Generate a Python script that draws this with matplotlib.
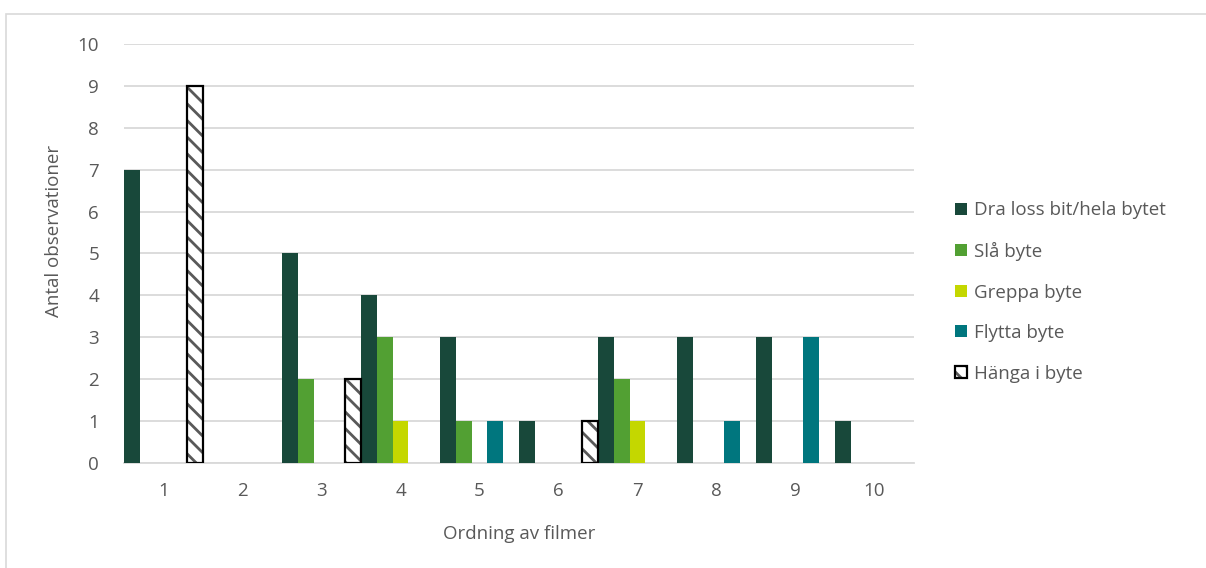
import matplotlib
matplotlib.use("Agg")
import matplotlib.pyplot as plt
from matplotlib.patches import Patch, Rectangle
import numpy as np

plt.rcParams['font.family'] = ['Open Sans', 'DejaVu Sans']
plt.rcParams['hatch.linewidth'] = 2.0

categories = ["1", "2", "3", "4", "5", "6", "7", "8", "9", "10"]
series_names = ["Dra loss bit/hela bytet", "Slå byte", "Greppa byte", "Flytta byte", "Hänga i byte"]
dra_loss = [7, 0, 5, 4, 3, 1, 3, 3, 3, 1]
sla = [0, 0, 2, 3, 1, 0, 2, 0, 0, 0]
greppa = [0, 0, 0, 1, 0, 0, 1, 0, 0, 0]
flytta = [0, 0, 0, 0, 1, 0, 0, 1, 3, 0]
hanga = [9, 0, 2, 0, 0, 1, 0, 0, 0, 0]
y_ticks = list(range(0, 11))

colors = ["#18483A", "#52A033", "#C4D700", "#00767E"]
text_color = "#595959"
grid_color = "#D9D9D9"
fs = 13.5

fig = plt.figure(figsize=(12.06, 5.68), dpi=100)
# chart-area border: only the top and left edges fall inside the canvas
fig.patches.append(Rectangle((6 / 1206, -0.2), 1.2, 1.2 - 14 / 568, transform=fig.transFigure,
                             fill=False, edgecolor="#D9D9D9", linewidth=1.2))

ax = fig.add_axes([124 / 1206, 105 / 568, 790 / 1206, 419 / 568])

x = np.arange(1, len(categories) + 1)
n = len(series_names)
w = 1.0 / n
solid = [dra_loss, sla, greppa, flytta]
for j, vals in enumerate(solid):
    ax.bar(x - 0.5 + (j + 0.5) * w, vals, width=w, color=colors[j], linewidth=0, zorder=3)

hx = x - 0.5 + (n - 0.5) * w
ax.bar(hx, hanga, width=w, facecolor="white", edgecolor=text_color, hatch="\\\\", linewidth=0, zorder=3)
for xi, v in zip(hx, hanga):
    if v > 0:
        ax.bar(xi, v, width=w, fill=False, edgecolor="black", linewidth=1.6, zorder=4)

ax.set_xlim(0.5, len(categories) + 0.5)
ax.set_ylim(0, 10)
ax.set_yticks(y_ticks)
ax.set_xticks(x)
ax.set_xticklabels(categories)
ax.yaxis.grid(True, color=grid_color, linewidth=1.3, zorder=0)
ax.set_axisbelow(True)
for s in ["top", "right", "left"]:
    ax.spines[s].set_visible(False)
ax.spines["bottom"].set_color(grid_color)
ax.spines["bottom"].set_linewidth(1.3)
ax.tick_params(axis="y", length=0, pad=18, labelsize=fs, labelcolor=text_color)
ax.tick_params(axis="x", length=0, pad=14, labelsize=fs, labelcolor=text_color)

fig.text(54 / 1206, 1 - 231 / 568, "Antal observationer", rotation=90, ha="center", va="center",
         fontsize=fs, color=text_color)
fig.text(519 / 1206, 1 - 534 / 568, "Ordning av filmer", ha="center", va="center",
         fontsize=fs, color=text_color)

handles = [Patch(facecolor=c, edgecolor="none") for c in colors]
handles.append((Patch(facecolor="white", edgecolor=text_color, hatch="\\\\", linewidth=0),
                Patch(fill=False, edgecolor="black", linewidth=1.6)))
leg = fig.legend(handles, series_names, loc="center left", bbox_to_anchor=(955 / 1206, 1 - 292 / 568),
                 frameon=False, fontsize=fs, labelcolor=text_color, handlelength=0.62, handleheight=0.62,
                 handletextpad=0.4, labelspacing=1.2, borderpad=0, borderaxespad=0)

fig.savefig("out.png", dpi=100)
